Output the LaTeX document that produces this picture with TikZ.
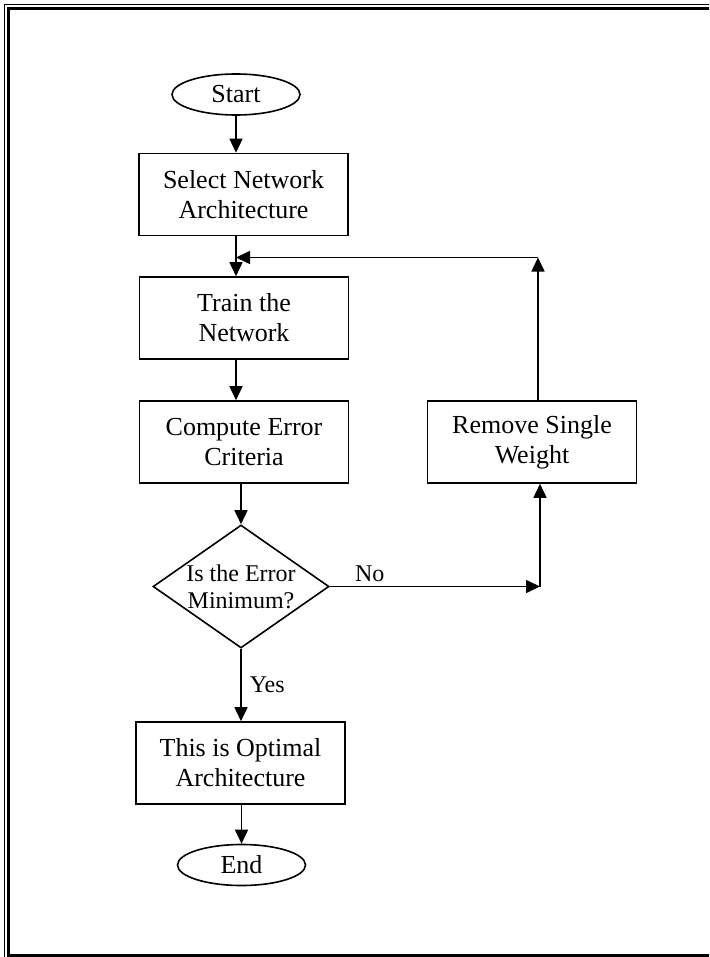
\documentclass[tikz,border=0pt]{standalone}
\usepackage{fontspec}
\setmainfont{Liberation Serif}
\usetikzlibrary{shapes.geometric,arrows.meta}

\begin{document}
\begin{tikzpicture}[x=0.5pt, y=-0.5pt,
    flowbox/.style={draw, line width=0.8pt, minimum width=104.5pt, minimum height=41pt,
      inner sep=0pt, align=center, font=\fontsize{13}{15}\selectfont},
    terminal/.style={draw, ellipse, line width=0.8pt, minimum width=64pt, minimum height=20.5pt,
      inner sep=0pt, font=\fontsize{13}{15}\selectfont},
    decision/.style={draw, diamond, aspect=1.43, line width=0.8pt, minimum width=88pt,
      minimum height=61.5pt, inner sep=0pt, align=center, font=\fontsize{12}{13.5}\selectfont},
    flowarrow/.style={line width=0.8pt, -{Triangle[length=7pt, width=6.5pt]}},
    flowlabel/.style={font=\fontsize{12}{14}\selectfont}]

    % page size (pixels)
    \def\pagew{709}
    \def\pageh{957}

    \useasboundingbox (0,0) rectangle (\pagew,\pageh);
    \clip (0,0) rectangle (\pagew,\pageh);

    % page border
    \draw[line width=0.6pt] (4.5,\pageh+5) -- (4.5,4.5) -- (\pagew+5,4.5);
    \draw[line width=1.5pt] (\pagew+5,955) -- (8.5,955) -- (8.5,8.5) -- (\pagew+5,8.5);

    % main column
    \node[terminal] (start) at (236,94.5) {Start};
    \node[flowbox] (select) at (243.5,194.5) {Select Network\\Architecture};
    \node[flowbox] (train) at (244,318) {Train the\\Network};
    \node[flowbox] (compute) at (244,442) {Compute Error\\Criteria};
    \node[decision] (errmin) at (241,586.5) {Is the Error\\Minimum?};
    \node[flowbox] (optimal) at (240.5,763) {This is Optimal\\Architecture};
    \node[terminal] (finish) at (241.5,865) {End};

    % pruning branch
    \node[flowbox] (remove) at (532,442) {Remove Single\\Weight};
    \coordinate (nobend) at (540,586.5);
    \coordinate (loopup) at (538,257.5);
    \coordinate (loopin) at (236,257.5);

    % connectors
    \draw[flowarrow] (start) -- (start |- select.north);
    \draw[flowarrow] (start |- select.south) -- (start |- train.north);
    \draw[flowarrow] (start |- train.south) -- (start |- compute.north);
    \draw[flowarrow] (errmin |- compute.south) -- (errmin.north);
    \draw[flowarrow] (errmin.east) -- node[flowlabel, above, pos=0.19, inner sep=2pt] {No} (nobend);
    \draw[flowarrow] (nobend) -- (nobend |- remove.south);
    \draw[flowarrow] (loopup |- remove.north) -- (loopup);
    \draw[flowarrow] (loopup) -- (loopin);
    \draw[flowarrow] (errmin.south) -- node[flowlabel, right, inner sep=4pt] {Yes} (errmin.south |- optimal.north);
    \draw[flowarrow] (finish |- optimal.south) -- (finish);
  \end{tikzpicture}
\end{document}
